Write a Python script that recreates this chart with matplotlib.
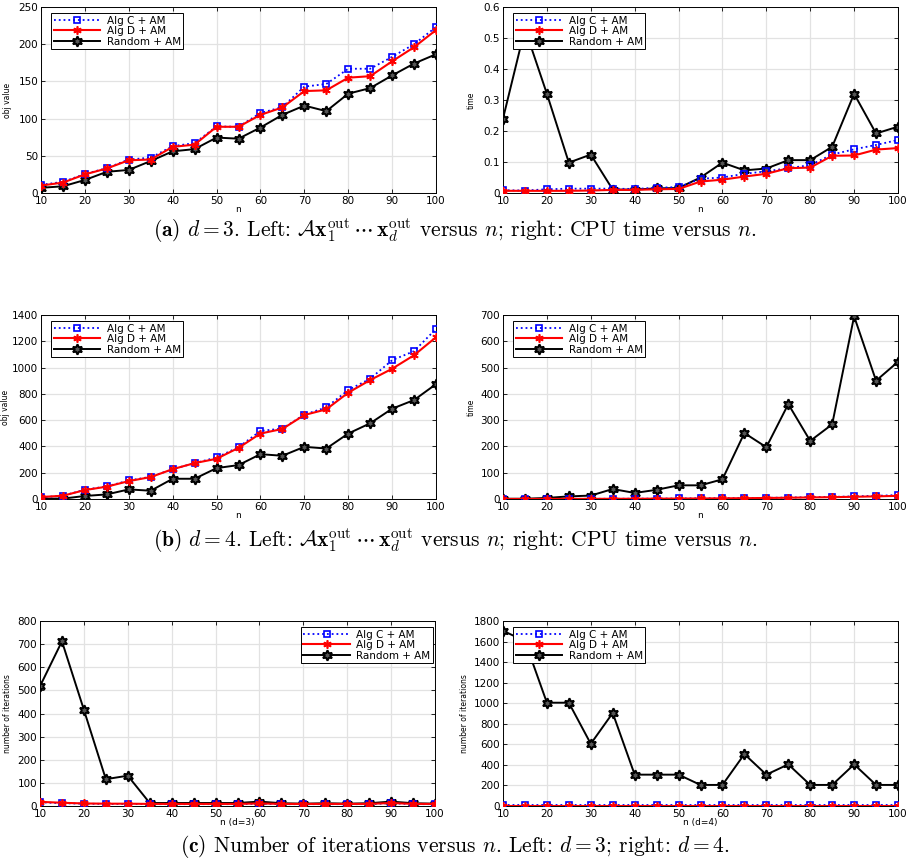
import matplotlib
matplotlib.use('Agg')
import matplotlib.pyplot as plt
from matplotlib.ticker import MultipleLocator, FormatStrFormatter

plt.rcParams['font.family'] = ['DejaVu Sans']
plt.rcParams['mathtext.fontset'] = 'cm'

# problem sizes
n = [10, 15, 20, 25, 30, 35, 40, 45, 50, 55, 60, 65, 70, 75, 80, 85, 90, 95, 100]

# (a) d = 3
obj3_C = [11, 15, 25.5, 33.5, 45, 47.5, 63, 67, 89.5, 89, 107.5, 115.5, 143, 146.5, 167, 167, 183, 200, 223]
obj3_D = [10, 14, 25, 33, 44, 45, 62, 65, 89, 89, 105, 115, 137, 138, 155, 157, 177, 196, 219]
obj3_R = [7, 9, 17.5, 28.5, 31, 43, 56, 59, 74.5, 73, 88, 105, 117.5, 110, 133.5, 141, 158, 174, 186.5]

time3_C = [0.009, 0.008, 0.012, 0.014, 0.014, 0.014, 0.013, 0.017, 0.019, 0.046, 0.05, 0.062, 0.07, 0.08, 0.09, 0.124, 0.141, 0.155, 0.171]
time3_D = [0.007, 0.007, 0.007, 0.007, 0.008, 0.01, 0.01, 0.012, 0.013, 0.037, 0.043, 0.053, 0.062, 0.08, 0.082, 0.12, 0.121, 0.14, 0.145]
time3_R = [0.24, 0.53, 0.32, 0.098, 0.124, 0.011, 0.011, 0.015, 0.016, 0.05, 0.098, 0.073, 0.079, 0.106, 0.106, 0.149, 0.32, 0.192, 0.214]

# (b) d = 4
obj4_C = [13, 25, 71, 96, 141, 169, 227, 273, 316, 394, 518, 536, 642, 697, 829, 915, 1056, 1125, 1294]
obj4_D = [15, 25, 68, 94, 136, 167, 227, 273, 306, 389, 498, 533, 639, 682, 809, 905, 991, 1094, 1231]
obj4_R = [3, 3, 23, 35, 73, 63, 154, 154, 235, 258, 341, 329, 397, 384, 498, 576, 687, 753, 874]

time4_C = [0.1, 0.2, 0.3, 0.5, 0.7, 0.9, 1.2, 1.5, 2, 2.5, 3, 3.5, 4.5, 5.5, 7, 8, 10, 12, 15]
time4_D = [0.1, 0.15, 0.25, 0.4, 0.6, 0.8, 1, 1.3, 1.7, 2.1, 2.6, 3.1, 3.9, 4.8, 6, 7, 8.5, 10, 12]
time4_R = [1, 1, 4, 10, 13, 38, 23, 35, 52, 52, 75, 251, 197, 361, 221, 284, 695, 450, 522]

# (c) iterations
iter3_C = [16, 12, 10, 9, 9, 8, 8, 8, 8, 8, 10, 8, 8, 8, 8, 8, 12, 8, 8]
iter3_D = [18, 14, 11, 10, 10, 9, 9, 9, 9, 9, 11, 9, 9, 9, 9, 9, 13, 9, 9]
iter3_R = [518, 712, 416, 116, 131, 13, 13, 13, 13, 13, 19, 12, 10, 12, 10, 12, 19, 12, 10]

iter4_C = [5, 5, 5, 5, 5, 5, 5, 5, 5, 5, 5, 5, 5, 5, 5, 5, 5, 5, 5]
iter4_D = [4, 4, 4, 4, 4, 4, 4, 4, 4, 4, 4, 4, 4, 4, 4, 4, 4, 4, 4]
iter4_R = [1705, 1605, 1005, 1005, 605, 905, 305, 305, 305, 205, 205, 505, 305, 405, 205, 205, 405, 205, 205]

labels = ['Alg C + AM', 'Alg D + AM', 'Random + AM']

W, H = 910, 861
fig = plt.figure(figsize=(W / 100, H / 100), dpi=100)


def px_axes(x0, y0, x1, y1):
    return fig.add_axes([x0 / W, 1 - y1 / H, (x1 - x0) / W, (y1 - y0) / H])


def panel(ax, yC, yD, yR, ymax, ystep, fmt, ylabel, xlabel, ylab_off, legend_right=False):
    ax.plot(n, yC, ':', color='blue', lw=1.3, marker='s', ms=5,
            mfc='none', mec='blue', mew=1.2, label=labels[0], zorder=3)
    ax.plot(n, yD, '-', color='red', lw=1.5, marker=(6, 2, 0), ms=6,
            mec='red', mew=1.2, label=labels[1], zorder=4)
    ax.plot(n, yR, '-', color='black', lw=1.4, marker=(6, 1, 0), ms=7.5,
            mfc='#555555', mec='black', mew=1.4, label=labels[2], zorder=2)
    ax.set_xlim(10, 100)
    ax.set_ylim(0, ymax)
    ax.xaxis.set_major_locator(MultipleLocator(10))
    ax.yaxis.set_major_locator(MultipleLocator(ystep))
    ax.yaxis.set_major_formatter(FormatStrFormatter(fmt))
    ax.grid(True, color='#e2e2e2', lw=0.9)
    ax.set_axisbelow(True)
    ax.tick_params(direction='in', top=True, right=True, length=3, width=0.6,
                   labelsize=7.5, pad=2)
    for s in ax.spines.values():
        s.set_linewidth(0.7)
    ax.set_ylabel(ylabel, fontsize=5.5, family=['Liberation Sans Narrow', 'DejaVu Sans'])
    bbox = ax.get_position()
    w_px = bbox.width * W
    h_px = bbox.height * H
    ax.yaxis.set_label_coords(-ylab_off / w_px, 0.5)
    ax.set_xlabel(xlabel, fontsize=6.5)
    ax.xaxis.set_label_coords(0.5, -12 / h_px)
    if legend_right:
        anchor, loc = (1 - 2 / w_px, 1 - 6 / h_px), 'upper right'
    else:
        anchor, loc = (10 / w_px, 1 - 6 / h_px), 'upper left'
    leg = ax.legend(loc=loc, bbox_to_anchor=anchor, borderaxespad=0, fontsize=7.5,
                    handlelength=4.5, handletextpad=0.6, labelspacing=0.05,
                    borderpad=0.25, fancybox=False, framealpha=1)
    leg.get_frame().set_edgecolor('black')
    leg.get_frame().set_linewidth(0.7)


ax = px_axes(41, 7, 436, 193)
panel(ax, obj3_C, obj3_D, obj3_R, 250, 50, '%g', 'obj value', 'n', 29)
ax = px_axes(503, 7, 898, 193)
panel(ax, time3_C, time3_D, time3_R, 0.6, 0.1, '%g', 'time', 'n', 27)

ax = px_axes(41, 315, 436, 499)
panel(ax, obj4_C, obj4_D, obj4_R, 1400, 200, '%g', 'obj value', 'n', 31)
ax = px_axes(503, 315, 898, 499)
panel(ax, time4_C, time4_D, time4_R, 700, 100, '%g', 'time', 'n', 27)

ax = px_axes(40, 621, 435, 806)
panel(ax, iter3_C, iter3_D, iter3_R, 800, 100, '%g', 'number of iterations', 'n (d=3)', 28,
      legend_right=True)
ax = px_axes(503, 621, 898, 806)
panel(ax, iter4_C, iter4_D, iter4_R, 1800, 200, '%g', 'number of iterations', 'n (d=4)', 34)

# captions (plain text in cmr10, math in Computer Modern mathtext)
xout = r'$\mathcal{A}\mathbf{x}_1^{\mathrm{out}}\,\cdots\,\mathbf{x}_d^{\mathrm{out}}$'
cap_a = r'$\mathbf{(a)}$ $d=3$. Left: ' + xout + r' versus $n$; right: CPU time versus $n$.'
cap_b = r'$\mathbf{(b)}$ $d=4$. Left: ' + xout + r' versus $n$; right: CPU time versus $n$.'
cap_c = r'$\mathbf{(c)}$ Number of iterations versus $n$. Left: $d=3$; right: $d=4$.'
for txt, y in [(cap_a, 231), (cap_b, 541), (cap_c, 846)]:
    fig.text(0.5, 1 - y / H, txt, ha='center', va='center', fontsize=15.5,
             family='cmr10')

fig.savefig('out.png', dpi=100)
